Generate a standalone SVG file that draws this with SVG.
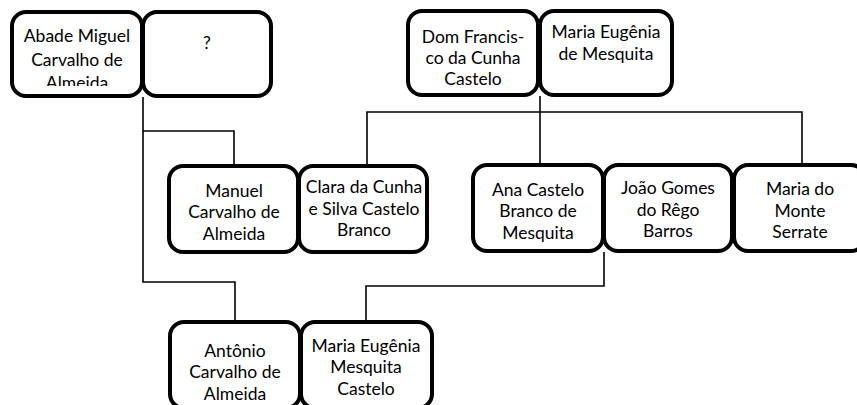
<svg xmlns="http://www.w3.org/2000/svg" width="857" height="405" viewBox="0 0 857 405">
<style>
.box{fill:#fff;stroke:#000;stroke-width:4}
.t{font-family:Lato,"Open Sans",sans-serif;font-size:17.5px;fill:#000;text-anchor:middle}
.c{fill:none;stroke:#000;stroke-width:1.6}
</style>
<defs>
<clipPath id="clipAbade"><rect x="13" y="13" width="127" height="73"/></clipPath>
</defs>
<rect width="857" height="405" fill="#fff"/>
<g id="connectors">
<polyline class="c" points="143,97 143,282 235,282 235,321"/>
<polyline class="c" points="143,131 234,131 234,165"/>
<line class="c" x1="540" y1="96" x2="540" y2="164"/>
<polyline class="c" points="367,165 367,112 802,112 802,164"/>
<polyline class="c" points="604,252 604,286 366,286 366,321"/>
</g>
<g id="abade">
<rect class="box" x="12" y="12" width="130" height="84" rx="14"/>
<g clip-path="url(#clipAbade)">
<text class="t" x="77" y="42">Abade Miguel</text>
<text class="t" x="77" y="66">Carvalho de</text>
<text class="t" x="77" y="89">Almeida</text>
</g>
</g>
<g id="unknown">
<rect class="box" x="143" y="12" width="128" height="84" rx="14"/>
<text class="t" x="207" y="49">?</text>
</g>
<g id="dom">
<rect class="box" x="408" y="11" width="130" height="84" rx="14"/>
<text class="t" x="473" y="43">Dom Francis-</text>
<text class="t" x="473" y="64">co da Cunha</text>
<text class="t" x="473" y="85">Castelo</text>
</g>
<g id="mariaeugenia">
<rect class="box" x="540" y="11" width="132" height="84" rx="14"/>
<text class="t" x="606" y="38">Maria Eugênia</text>
<text class="t" x="606" y="60">de Mesquita</text>
</g>
<g id="manuel">
<rect class="box" x="169" y="166" width="129" height="86" rx="14"/>
<text class="t" x="234" y="197">Manuel</text>
<text class="t" x="234" y="218">Carvalho de</text>
<text class="t" x="234" y="240">Almeida</text>
</g>
<g id="clara">
<rect class="box" x="299" y="166" width="128" height="86" rx="14"/>
<text class="t" x="364" y="193">Clara da Cunha</text>
<text class="t" x="364" y="215">e Silva Castelo</text>
<text class="t" x="364" y="236">Branco</text>
</g>
<g id="ana">
<rect class="box" x="473" y="165" width="130" height="86" rx="14"/>
<text class="t" x="538" y="196">Ana Castelo</text>
<text class="t" x="538" y="217">Branco de</text>
<text class="t" x="538" y="239">Mesquita</text>
</g>
<g id="joao">
<rect class="box" x="604" y="165" width="128" height="86" rx="14"/>
<text class="t" x="668" y="194">João Gomes</text>
<text class="t" x="668" y="216">do Rêgo</text>
<text class="t" x="668" y="237">Barros</text>
</g>
<g id="mariamonte">
<rect class="box" x="734" y="165" width="131" height="86" rx="14"/>
<text class="t" x="800" y="195">Maria do</text>
<text class="t" x="800" y="217">Monte</text>
<text class="t" x="800" y="238">Serrate</text>
</g>
<g id="antonio">
<rect class="box" x="170" y="322" width="130" height="86" rx="14"/>
<text class="t" x="235" y="357">Antônio</text>
<text class="t" x="235" y="378">Carvalho de</text>
<text class="t" x="235" y="400">Almeida</text>
</g>
<g id="mariaeugeniacastelo">
<rect class="box" x="301" y="322" width="131" height="86" rx="14"/>
<text class="t" x="366" y="352">Maria Eugênia</text>
<text class="t" x="366" y="373">Mesquita</text>
<text class="t" x="366" y="395">Castelo</text>
</g>
</svg>
